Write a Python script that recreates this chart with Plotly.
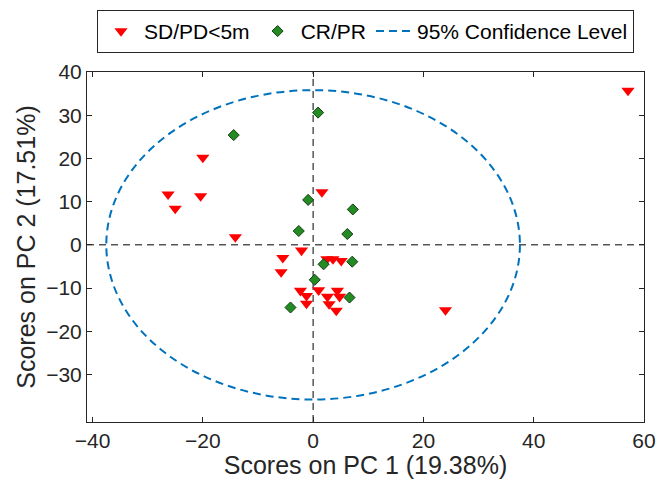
import plotly.graph_objects as go

# PCA scores
sd_pd_x = [57.1, 24.0, -20.0, -26.3, -25.0, -20.4, -14.1, 1.6, -2.1, -5.5, -5.8,
           2.5, 3.6, 5.1, -2.3, -1.2, -1.2, 1.0, 2.6, 2.9, 4.2, 4.4, 4.8]
sd_pd_y = [35.7, -15.1, 20.2, 11.7, 8.4, 11.3, 1.8, 12.2, -1.3, -3.0, -6.3,
           -3.3, -3.3, -3.7, -10.6, -11.8, -13.6, -10.5, -12.0, -13.7, -15.2, -10.6, -12.0]

cr_pr_x = [-14.4, 0.9, -0.9, 7.2, -2.6, 6.2, 1.9, 7.1, 0.3, 6.6, -4.1]
cr_pr_y = [25.4, 30.6, 10.4, 8.2, 3.2, 2.5, -4.5, -3.9, -8.1, -12.2, -14.5]

# 95% confidence ellipse semi-axes
ell_a = 37.5
ell_b = 35.8

x_ticks = [-40, -20, 0, 20, 40, 60]
y_ticks = [-30, -20, -10, 0, 10, 20, 30, 40]

FONT = "Liberation Sans, Arial, sans-serif"
AX = "#262626"

fig = go.Figure()

fig.add_trace(go.Scatter(
    x=sd_pd_x, y=sd_pd_y, mode="markers", name="SD/PD<5m",
    marker=dict(symbol="triangle-down", size=11.5, color="#FF0000",
                line=dict(width=0)),
))
fig.add_trace(go.Scatter(
    x=cr_pr_x, y=cr_pr_y, mode="markers", name="CR/PR",
    marker=dict(symbol="diamond", size=8.5, color="#228B22",
                line=dict(width=1, color="#143d14")),
))
# legend entry for the ellipse (drawn as a shape below)
fig.add_trace(go.Scatter(
    x=[None], y=[None], mode="lines", name="95% Confidence Level",
    line=dict(color="#0072BD", width=2, dash="8px,5px"),
))

# zero lines
fig.add_shape(type="line", x0=0, x1=0, y0=-41, y1=40, layer="below",
              line=dict(color="black", width=1, dash="7px,5px"))
fig.add_shape(type="line", x0=-41, x1=60, y0=0, y1=0, layer="below",
              line=dict(color="black", width=1, dash="7px,5px"))
# confidence ellipse
fig.add_shape(type="circle", x0=-ell_a, x1=ell_a, y0=-ell_b, y1=ell_b,
              layer="below", line=dict(color="#0072BD", width=2, dash="8px,5px"))

axis_common = dict(
    showline=True, linecolor=AX, linewidth=1, mirror="allticks",
    ticks="inside", ticklen=5, tickcolor=AX, showgrid=False, zeroline=False,
    tickfont=dict(family=FONT, size=21, color=AX), automargin=False,
)

fig.update_xaxes(range=[-41, 60], tickvals=x_ticks,
                 title=dict(text="Scores on PC 1 (19.38%)", standoff=4,
                            font=dict(family=FONT, size=25, color=AX)),
                 **axis_common)
fig.update_yaxes(range=[-41, 40], tickvals=y_ticks,
                 title=dict(text="Scores on PC 2 (17.51%)", standoff=3,
                            font=dict(family=FONT, size=25, color=AX)),
                 **axis_common)

fig.update_layout(
    width=658, height=479,
    margin=dict(l=87, r=14, t=72, b=57, autoexpand=False),
    plot_bgcolor="white", paper_bgcolor="white",
    font=dict(family=FONT, color=AX),
    legend=dict(orientation="h", x=0.5, xanchor="center", y=1.116, yanchor="middle",
                bordercolor=AX, borderwidth=1, bgcolor="white",
                font=dict(family=FONT, size=21, color="black"),
                itemwidth=36, tracegroupgap=0),
    showlegend=True,
)

# drop the page's default body margin so the figure sits at the window origin
fig.write_html("out.html", config={"displayModeBar": False},
               post_script="document.body.style.margin='0';")
